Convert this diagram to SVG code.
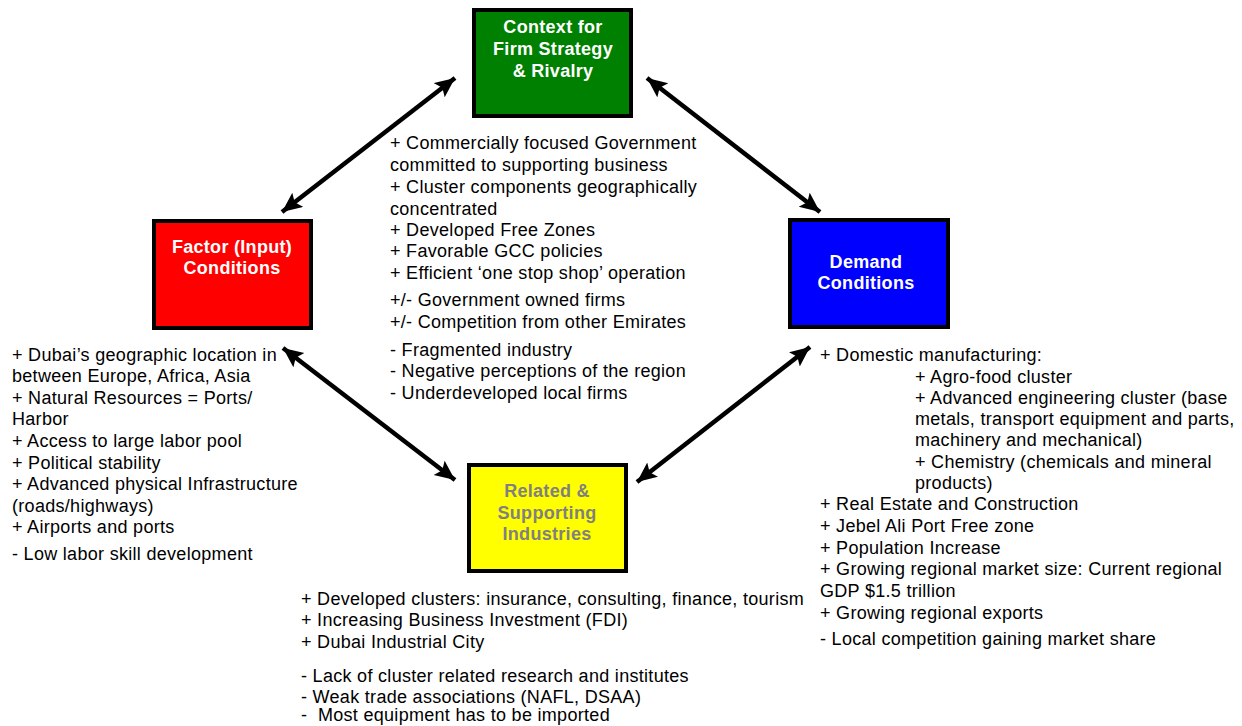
<svg xmlns="http://www.w3.org/2000/svg" width="1242" height="726" viewBox="0 0 1242 726">
<defs>
<marker id="ah" markerUnits="userSpaceOnUse" markerWidth="22" markerHeight="20" refX="20" refY="9" orient="auto-start-reverse">
<path d="M0,0 L20,9 L0,18 L4,9 Z" fill="#000"/>
</marker>
<style>
.box{stroke:#000;stroke-width:4}
.bt{font-family:"Liberation Sans",Arial,sans-serif;font-size:18px;letter-spacing:0.3px;font-weight:bold;text-anchor:middle}
.t{font-family:"Liberation Sans",Arial,sans-serif;font-size:18px;letter-spacing:0.3px;fill:#000}
.conn{stroke:#000;stroke-width:4.5;fill:none;marker-start:url(#ah);marker-end:url(#ah)}
</style>
</defs>
<rect width="1242" height="726" fill="#fff"/>
<g id="connectors">
<line class="conn" x1="282" y1="212" x2="455" y2="78"/>
<line class="conn" x1="647" y1="78" x2="820" y2="212"/>
<line class="conn" x1="283" y1="348" x2="455" y2="480"/>
<line class="conn" x1="810" y1="347" x2="637" y2="482"/>
</g>
<g id="context">
<rect class="box" x="474" y="10" width="157" height="106" fill="#008000"/>
<text class="bt" fill="#fff"><tspan x="553" y="33">Context for</tspan><tspan x="553" y="55">Firm Strategy</tspan><tspan x="553" y="77">&amp; Rivalry</tspan></text>
</g>
<g id="factor">
<rect class="box" x="154" y="221" width="157" height="107" fill="#ff0000"/>
<text class="bt" fill="#fff"><tspan x="232" y="253">Factor (Input)</tspan><tspan x="232" y="274">Conditions</tspan></text>
</g>
<g id="demand">
<rect class="box" x="790" y="220" width="158" height="107" fill="#0000ff"/>
<text class="bt" fill="#fff"><tspan x="866" y="268">Demand</tspan><tspan x="866" y="289">Conditions</tspan></text>
</g>
<g id="related">
<rect class="box" x="469" y="465" width="157" height="106" fill="#ffff00"/>
<text class="bt" fill="#808080"><tspan x="547" y="497">Related &amp;</tspan><tspan x="547" y="519">Supporting</tspan><tspan x="547" y="540">Industries</tspan></text>
</g>
<g id="context-notes">
<text class="t">
<tspan x="390" y="149">+ Commercially focused Government</tspan>
<tspan x="390" y="171">committed to supporting business</tspan>
<tspan x="390" y="193">+ Cluster components geographically</tspan>
<tspan x="390" y="215">concentrated</tspan>
<tspan x="390" y="236">+ Developed Free Zones</tspan>
<tspan x="390" y="257">+ Favorable GCC policies</tspan>
<tspan x="390" y="279">+ Efficient ‘one stop shop’ operation</tspan>
<tspan x="390" y="306">+/- Government owned firms</tspan>
<tspan x="390" y="328">+/- Competition from other Emirates</tspan>
<tspan x="390" y="356">- Fragmented industry</tspan>
<tspan x="390" y="377">- Negative perceptions of the region</tspan>
<tspan x="390" y="399">- Underdeveloped local firms</tspan>
</text>
</g>
<g id="factor-notes">
<text class="t">
<tspan x="12" y="361">+ Dubai’s geographic location in</tspan>
<tspan x="12" y="382">between Europe, Africa, Asia</tspan>
<tspan x="12" y="404">+ Natural Resources = Ports/</tspan>
<tspan x="12" y="425">Harbor</tspan>
<tspan x="12" y="447">+ Access to large labor pool</tspan>
<tspan x="12" y="469">+ Political stability</tspan>
<tspan x="12" y="490">+ Advanced physical Infrastructure</tspan>
<tspan x="12" y="512">(roads/highways)</tspan>
<tspan x="12" y="533">+ Airports and ports</tspan>
<tspan x="12" y="560">- Low labor skill development</tspan>
</text>
</g>
<g id="demand-notes">
<text class="t">
<tspan x="820" y="361">+ Domestic manufacturing:</tspan>
<tspan x="915" y="383">+ Agro-food cluster</tspan>
<tspan x="915" y="404">+ Advanced engineering cluster (base</tspan>
<tspan x="915" y="425">metals, transport equipment and parts,</tspan>
<tspan x="915" y="446">machinery and mechanical)</tspan>
<tspan x="915" y="468">+ Chemistry (chemicals and mineral</tspan>
<tspan x="915" y="489">products)</tspan>
<tspan x="820" y="510">+ Real Estate and Construction</tspan>
<tspan x="820" y="532">+ Jebel Ali Port Free zone</tspan>
<tspan x="820" y="554">+ Population Increase</tspan>
<tspan x="820" y="575">+ Growing regional market size: Current regional</tspan>
<tspan x="820" y="597">GDP $1.5 trillion</tspan>
<tspan x="820" y="619">+ Growing regional exports</tspan>
<tspan x="820" y="645">- Local competition gaining market share</tspan>
</text>
</g>
<g id="related-notes">
<text class="t">
<tspan x="301" y="605">+ Developed clusters: insurance, consulting, finance, tourism</tspan>
<tspan x="301" y="626">+ Increasing Business Investment (FDI)</tspan>
<tspan x="301" y="648">+ Dubai Industrial City</tspan>
<tspan x="301" y="682">- Lack of cluster related research and institutes</tspan>
<tspan x="301" y="703">- Weak trade associations (NAFL, DSAA)</tspan>
<tspan x="301" y="721">-&#160; Most equipment has to be imported</tspan>
</text>
</g>
</svg>
